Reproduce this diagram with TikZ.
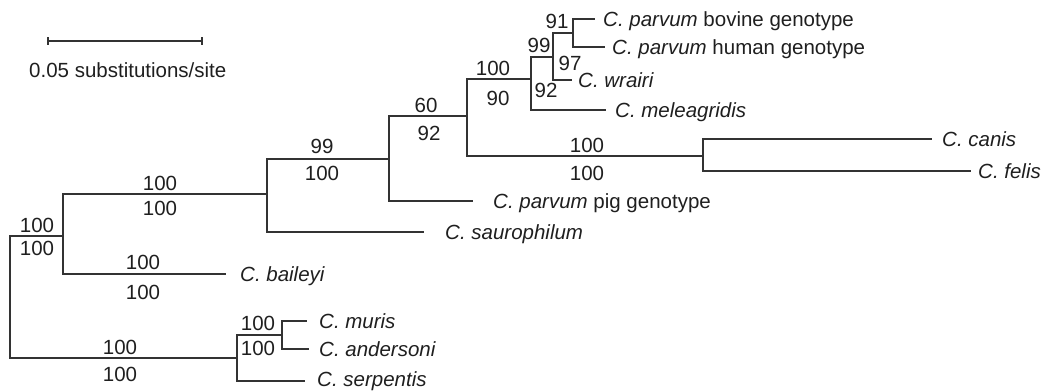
\documentclass[tikz,border=0pt]{standalone}
\usepackage{fontspec}
\setmainfont{Liberation Sans}
\begin{document}
\begin{tikzpicture}[x=1pt,y=-1pt,
  br/.style={draw=black!80,line width=1.2pt},
  lab/.style={anchor=base west,inner sep=0pt,text=black!88,font=\fontsize{20.5}{24}\selectfont},
  sup/.style={anchor=center,inner sep=0pt,text=black!88,font=\fontsize{20.5}{24}\selectfont}]
\useasboundingbox (0,0) rectangle (1049,391);
% scale bar
\coordinate (sbL) at (48,41);
\coordinate (sbR) at (202,41);
\draw[br] (sbL) -- (sbR);
\draw[br] ([yshift=4pt]sbL) -- ([yshift=-4pt]sbL);
\draw[br] ([yshift=4pt]sbR) -- ([yshift=-4pt]sbR);
\node[lab] (sbt) at (29,77) {0.05 substitutions/site};
% internal nodes (x of vertical, y of incoming branch)
\coordinate (R) at (10,297);
\coordinate (A) at (63,236);
\coordinate (B) at (267,194);
\coordinate (C) at (389,159);
\coordinate (D) at (467,116);
\coordinate (E) at (531,79);
\coordinate (F) at (553,57);
\coordinate (G) at (573,33);
\coordinate (H) at (703,156);
\coordinate (I) at (237,358);
\coordinate (J) at (282,335);
% leaf ends
\coordinate (lbov) at (595,19);
\coordinate (lhum) at (605,47);
\coordinate (lwra) at (572,80);
\coordinate (lmel) at (606,110);
\coordinate (lcan) at (932,139);
\coordinate (lfel) at (971,171);
\coordinate (lpig) at (473,201);
\coordinate (lsau) at (424,232);
\coordinate (lbai) at (226,274);
\coordinate (lmur) at (307,321);
\coordinate (land) at (309,349);
\coordinate (lser) at (305,381);
% branches
\draw[br] (R) |- (A);
\draw[br] (R) |- (I);
\draw[br] (A) |- (B);
\draw[br] (A) |- (lbai);
\draw[br] (B) |- (C);
\draw[br] (B) |- (lsau);
\draw[br] (C) |- (D);
\draw[br] (C) |- (lpig);
\draw[br] (D) |- (E);
\draw[br] (D) |- (H);
\draw[br] (E) |- (F);
\draw[br] (E) |- (lmel);
\draw[br] (F) |- (G);
\draw[br] (F) |- (lwra);
\draw[br] (G) |- (lbov);
\draw[br] (G) |- (lhum);
\draw[br] (H) |- (lcan);
\draw[br] (H) |- (lfel);
\draw[br] (I) |- (J);
\draw[br] (I) |- (lser);
\draw[br] (J) |- (lmur);
\draw[br] (J) |- (land);
% leaf labels
\node[lab] (tbov) at (603,26) {\textit{C. parvum} bovine genotype};
\node[lab] (thum) at (612,54) {\textit{C. parvum} human genotype};
\node[lab] (twra) at (578,87) {\textit{C. wrairi}};
\node[lab] (tmel) at (615,117) {\textit{C. meleagridis}};
\node[lab] (tcan) at (942,146) {\textit{C. canis}};
\node[lab] (tfel) at (978,178) {\textit{C. felis}};
\node[lab] (tpig) at (493,208) {\textit{C. parvum} pig genotype};
\node[lab] (tsau) at (445,239) {\textit{C. saurophilum}};
\node[lab] (tbai) at (240,281) {\textit{C. baileyi}};
\node[lab] (tmur) at (319,328) {\textit{C. muris}};
\node[lab] (tand) at (319,356) {\textit{C. andersoni}};
\node[lab] (tser) at (317,386.5) {\textit{C. serpentis}};
% support values
\node[sup] (s1) at (37,225) {100};
\node[sup] (s2) at (37,248) {100};
\node[sup] (s3) at (160,183) {100};
\node[sup] (s4) at (160,208) {100};
\node[sup] (s5) at (322,146) {99};
\node[sup] (s6) at (322,173) {100};
\node[sup] (s7) at (426,105) {60};
\node[sup] (s8) at (429,133) {92};
\node[sup] (s9) at (493,68) {100};
\node[sup] (s10) at (498,98) {90};
\node[sup] (s11) at (539,45) {99};
\node[sup] (s12) at (546,90) {92};
\node[sup] (s13) at (570,63) {97};
\node[sup] (s14) at (557,21) {91};
\node[sup] (s15) at (587,145) {100};
\node[sup] (s16) at (587,173) {100};
\node[sup] (s17) at (143,262) {100};
\node[sup] (s18) at (143,292) {100};
\node[sup] (s19) at (120,347) {100};
\node[sup] (s20) at (120,374) {100};
\node[sup] (s21) at (258,323) {100};
\node[sup] (s22) at (258,348) {100};
\end{tikzpicture}
\end{document}
